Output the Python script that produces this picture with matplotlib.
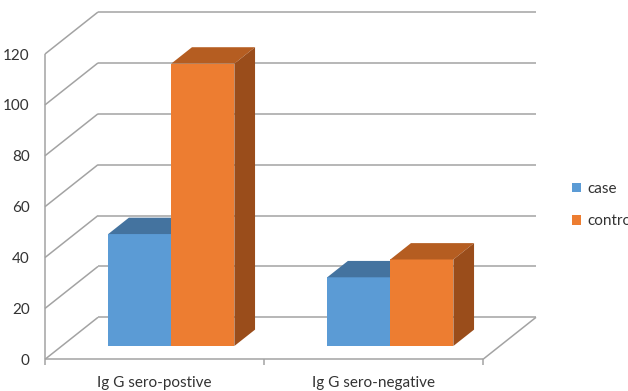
import numpy as np
import matplotlib.pyplot as plt
from matplotlib.patches import Polygon, Patch

# --- data ---
categories = ["Ig G sero-postive", "Ig G sero-negative"]
series_names = ["case", "control"]
case_values = [44, 27]
control_values = [111, 34]
y_ticks = [0, 20, 40, 60, 80, 100, 120]

# --- look ---
FRONT = ["#5b9bd5", "#ed7d31"]
TOP = ["#44739f", "#b55d21"]
SIDE = ["#3b6590", "#9a4d1b"]
GRID = "#a3a3a3"
TEXT = "#333333"
plt.rcParams['font.family'] = ['Lato', 'DejaVu Sans']

# oblique depth of the whole plot box, in data units
DEPTH_X = 0.242
DEPTH_Y = 16.5
BAR_T0 = 0.317     # depth of bar front faces (fraction of box)
BAR_D = 0.39       # bar depth (fraction of box)
BAR_W = 0.288

W, H = 628, 391
fig = plt.figure(figsize=(W / 100, H / 100), dpi=100)
ax = fig.add_axes([45 / W, (H - 359.3) / H, 438 / W, 305.3 / H])
ax.set_xlim(0, 2)
ax.set_ylim(0, 120)
for s in ax.spines.values():
    s.set_visible(False)

line_kw = dict(color=GRID, lw=1.1, clip_on=False, solid_capstyle='butt', zorder=1)

# left wall + back wall gridlines
for v in y_ticks:
    ax.plot([0, DEPTH_X], [v, v + DEPTH_Y], **line_kw)
    ax.plot([DEPTH_X, 2 + DEPTH_X], [v + DEPTH_Y, v + DEPTH_Y], **line_kw)
# floor and front axis
ax.plot([0, 2], [0, 0], **line_kw)
ax.plot([2, 2 + DEPTH_X], [0, DEPTH_Y], **line_kw)
ax.plot([0, 0], [0, 120], **line_kw)

# bars
b = BAR_T0 * DEPTH_Y
sx = BAR_T0 * DEPTH_X
dx = BAR_D * DEPTH_X
dy = BAR_D * DEPTH_Y
centers = np.arange(len(categories)) + 0.5
for k, vals in enumerate([case_values, control_values]):
    lefts = centers - BAR_W + k * BAR_W + sx
    ax.bar(lefts, vals, width=BAR_W, bottom=b, align='edge', color=FRONT[k],
           linewidth=0, clip_on=False, zorder=3 + k)
    for xl, v in zip(lefts, vals):
        xr = xl + BAR_W
        top = Polygon([(xl, v + b), (xr, v + b), (xr + dx, v + b + dy), (xl + dx, v + b + dy)],
                      closed=True, facecolor=TOP[k], edgecolor='none', clip_on=False, zorder=3 + k)
        side = Polygon([(xr, b), (xr + dx, b + dy), (xr + dx, v + b + dy), (xr, v + b)],
                       closed=True, facecolor=SIDE[k], edgecolor='none', clip_on=False, zorder=3 + k)
        ax.add_patch(top)
        ax.add_patch(side)

# ticks and labels
ax.set_yticks(y_ticks)
ax.tick_params(axis='y', length=0, pad=11, labelsize=11, labelcolor=TEXT)
ax.set_xticks(centers)
ax.set_xticklabels(categories)
ax.tick_params(axis='x', length=0, pad=12, labelsize=11, labelcolor=TEXT)
ax.set_xticks([0, 1, 2], minor=True)
ax.tick_params(axis='x', which='minor', length=4, color=GRID, width=1.1)

handles = [Patch(facecolor=FRONT[i], edgecolor='none') for i in range(2)]
fig.legend(handles, series_names, loc='upper left', bbox_to_anchor=(558 / W, 1 - 168 / H),
           frameon=False, handlelength=0.6, handleheight=0.6, handletextpad=0.4,
           labelspacing=1.2, fontsize=11, labelcolor=TEXT)

fig.savefig("out.png", dpi=100)
